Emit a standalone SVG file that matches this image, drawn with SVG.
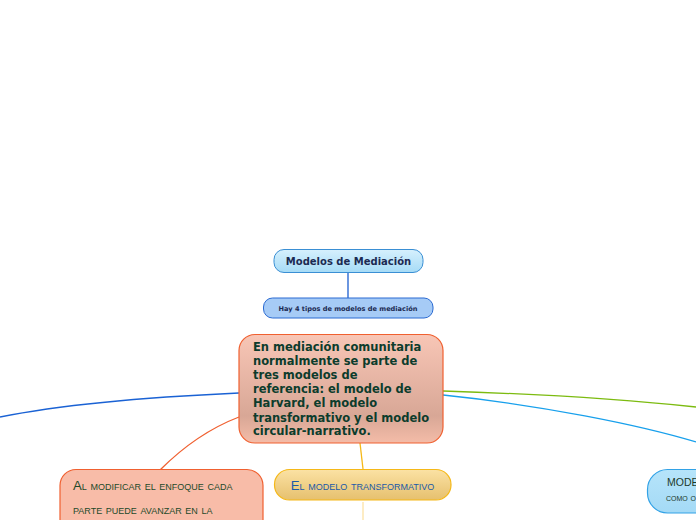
<svg xmlns="http://www.w3.org/2000/svg" width="696" height="520" viewBox="0 0 696 520">
<defs>
<linearGradient id="gTop" x1="0" y1="0" x2="0" y2="1"><stop offset="0" stop-color="#d6f0fd"/><stop offset="1" stop-color="#a6dbf6"/></linearGradient>
<linearGradient id="gMain" x1="0" y1="0" x2="0" y2="1"><stop offset="0" stop-color="#f8c6b6"/><stop offset="0.75" stop-color="#d8a796"/><stop offset="1" stop-color="#f4bca8"/></linearGradient>
<linearGradient id="gYel" x1="0" y1="0" x2="0" y2="1"><stop offset="0" stop-color="#fbe2a4"/><stop offset="1" stop-color="#e6c06e"/></linearGradient>
<linearGradient id="gRight" x1="0" y1="0" x2="0" y2="1"><stop offset="0" stop-color="#b6e4fa"/><stop offset="1" stop-color="#a4daf6"/></linearGradient>
</defs>
<style>
.c{fill:none;stroke-width:1.3}
.b{font-family:"DejaVu Sans",sans-serif;font-weight:bold}
.h{font-family:"Liberation Sans",sans-serif;font-variant:small-caps}
</style>
<rect width="696" height="520" fill="#ffffff"/>
<g id="connectors">
<path class="c" d="M348 272 V298" stroke="#1d5fd0"/>
<path class="c" d="M239 393 C150 397 60 405 0 417" stroke="#1a62d4"/>
<path class="c" d="M239 417 C205 430 180 450 160 470" stroke="#f06030"/>
<path class="c" d="M360 443 L363 469" stroke="#f5b818"/>
<path class="c" d="M443 391 C540 394 630 400 696 407" stroke="#7cbb10"/>
<path class="c" d="M443 395 C540 405 640 425 696 442" stroke="#18a0ec"/>
<path d="M363 502 V520" stroke="#fce6b0" stroke-width="1.5" fill="none"/>
</g>
<g id="n1">
<rect x="274" y="249.5" width="149" height="23" rx="10" fill="url(#gTop)" stroke="#3a8fd4" stroke-width="1"/>
<text class="b" x="348.5" y="265" font-size="10" fill="#1b2a52" text-anchor="middle">Modelos de Mediación</text>
</g>
<g id="n2">
<rect x="263.5" y="298" width="169.5" height="20" rx="9" fill="#a6cbf6" stroke="#2a6ad2" stroke-width="1"/>
<text class="b" x="348" y="311" font-size="6.6" fill="#1b2a52" text-anchor="middle">Hay 4 tipos de modelos de mediación</text>
</g>
<g id="n3">
<rect x="239" y="334.5" width="204" height="108.5" rx="16" fill="url(#gMain)" stroke="#f06030" stroke-width="1.2"/>
<text class="b" font-size="11.5" fill="#0c3c2c">
<tspan x="253" y="350.5">En mediación comunitaria</tspan>
<tspan x="253" y="365">normalmente se parte de</tspan>
<tspan x="253" y="379">tres modelos de</tspan>
<tspan x="253" y="393">referencia: el modelo de</tspan>
<tspan x="253" y="407">Harvard, el modelo</tspan>
<tspan x="253" y="421.5">transformativo y el modelo</tspan>
<tspan x="253" y="435">circular-narrativo.</tspan>
</text>
</g>
<g id="n4">
<rect x="60" y="469.5" width="203" height="70" rx="16" fill="#f8bca8" stroke="#f06030" stroke-width="1.2"/>
<text class="h" font-size="13.2" fill="#1d4a2a">
<tspan x="73" y="490">Al modificar el enfoque cada</tspan>
<tspan x="73" y="514">parte puede avanzar en la</tspan>
</text>
</g>
<g id="n5">
<rect x="274.5" y="469.5" width="176.5" height="30.5" rx="15" fill="url(#gYel)" stroke="#f5b818" stroke-width="1.2"/>
<text class="h" x="362.5" y="489.5" font-size="13.2" fill="#1a5aa8" text-anchor="middle">El modelo transformativo</text>
</g>
<g id="n6">
<rect x="647.5" y="469.5" width="80" height="43.5" rx="20" fill="url(#gRight)" stroke="#32a2e6" stroke-width="1.2"/>
<text class="h" font-size="10.5" fill="#1d3a2a">
<tspan x="667" y="486">MODEL</tspan>
<tspan x="666" y="501" font-size="10">como o</tspan>
</text>
</g>
</svg>
